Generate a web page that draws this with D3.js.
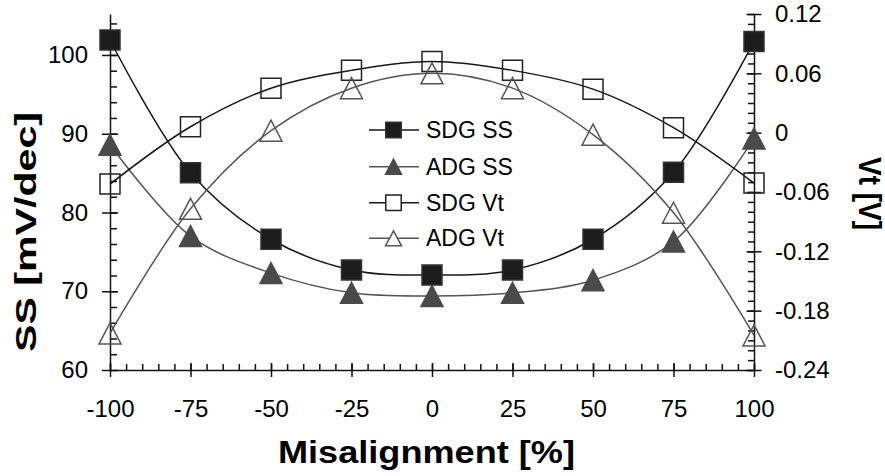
<!DOCTYPE html>
<html>
<head>
<meta charset="utf-8">
<script src="https://cdn.jsdelivr.net/npm/d3@7"></script>
<style>
  body { margin: 0; background: #fff; }
  text { font-family: 'Liberation Sans', Arial, sans-serif; }
</style>
</head>
<body>
<svg id="chart"></svg>
<script>
const width = 885;
const height = 476;

// misalignment in %
const misalign = [-100, -75, -50, -25, 0, 25, 50, 75, 100];
const sdgSS = [101.9, 85.05, 76.6, 72.7, 72.05, 72.7, 76.6, 85.1, 101.7];
const adgSS = [88.6, 77.0, 72.3, 69.8, 69.4, 69.8, 71.4, 76.3, 89.4];
const sdgVt = [-0.052, 0.006, 0.045, 0.063, 0.072, 0.063, 0.044, 0.005, -0.051];
const adgVt = [-0.203, -0.077, 0.002, 0.045, 0.060, 0.045, -0.002, -0.081, -0.205];

const xTicks = [-100, -75, -50, -25, 0, 25, 50, 75, 100];
const ssTicks = [60, 70, 80, 90, 100];
const vtTicks = [-0.24, -0.18, -0.12, -0.06, 0, 0.06, 0.12];
const legendNames = ['SDG SS', 'ADG SS', 'SDG Vt', 'ADG Vt'];

const x = d3.scaleLinear().domain([-100, 100]).range([110, 754]);
const yL = d3.scaleLinear().domain([60, 105.2]).range([370, 14]);
const yR = d3.scaleLinear().domain([-0.24, 0.12]).range([370, 14]);

// plain hyphen instead of the unicode minus d3 uses
const hyphen = (s) => s.replace('\u2212', '-');

const svg = d3.select('#chart')
  .attr('width', width)
  .attr('height', height)
  .attr('viewBox', [0, 0, width, height]);

/** ---------- AXES ---------- */
// minor ticks first (inside only)
svg.append('g')
  .attr('transform', 'translate(0,370)')
  .call(d3.axisBottom(x).tickValues(d3.range(-100, 101, 5)).tickSize(-6).tickFormat(''))
  .call((g) => g.select('.domain').remove());
svg.append('g')
  .attr('transform', 'translate(110,0)')
  .call(d3.axisLeft(yL).tickValues(d3.range(62, 105, 2)).tickSize(-7).tickFormat(''))
  .call((g) => g.select('.domain').remove());
svg.append('g')
  .attr('transform', 'translate(754,0)')
  .call(d3.axisRight(yR).tickValues(d3.range(-24, 13, 1).map((v) => v / 100)).tickSize(-6).tickFormat(''))
  .call((g) => g.select('.domain').remove());

const xAxis = svg.append('g')
  .attr('transform', 'translate(0,370)')
  .call(d3.axisBottom(x).tickValues(xTicks).tickSize(7).tickPadding(23).tickSizeOuter(0)
    .tickFormat((d) => String(d)));
xAxis.selectAll('.tick line').attr('y1', -7);
xAxis.selectAll('.tick text').attr('font-size', 24);

const leftAxis = svg.append('g')
  .attr('transform', 'translate(110,0)')
  .call(d3.axisLeft(yL).tickValues(ssTicks).tickSize(8).tickPadding(14).tickSizeOuter(0));
leftAxis.selectAll('.tick line').attr('x1', 8);
leftAxis.selectAll('.tick text').attr('font-size', 24);

const rightAxis = svg.append('g')
  .attr('transform', 'translate(754,0)')
  .call(d3.axisRight(yR).tickValues(vtTicks).tickSize(7.5).tickPadding(13.5).tickSizeOuter(0)
    .tickFormat((d) => (d === 0 ? '0' : hyphen(d3.format('.2f')(d)))));
rightAxis.selectAll('.tick line').attr('x1', -7.5);
rightAxis.selectAll('.tick text').attr('font-size', 24);

svg.selectAll('.domain, .tick line').attr('stroke', '#111').attr('stroke-width', 1.5);
svg.selectAll('.tick text').attr('fill', '#000').style('font-family', "'Liberation Sans', Arial, sans-serif");

// axis titles
svg.append('text')
  .attr('x', 426.5).attr('y', 463)
  .attr('text-anchor', 'middle')
  .attr('font-size', 32).attr('font-weight', 'bold')
  .attr('textLength', 297).attr('lengthAdjust', 'spacingAndGlyphs')
  .text('Misalignment [%]');
svg.append('text')
  .attr('transform', 'translate(35.5,232) rotate(-90)')
  .attr('text-anchor', 'middle')
  .attr('font-size', 30).attr('font-weight', 'bold')
  .attr('textLength', 240).attr('lengthAdjust', 'spacingAndGlyphs')
  .text('SS [mV/dec]');
svg.append('text')
  .attr('transform', 'translate(858.5,193.5) rotate(90)')
  .attr('text-anchor', 'middle')
  .attr('font-size', 31).attr('font-weight', 'bold')
  .attr('textLength', 73).attr('lengthAdjust', 'spacingAndGlyphs')
  .text('Vt [V]');

/** ---------- SERIES ---------- */
const squarePath = (s) => `M${-s / 2},${-s / 2}h${s}v${s}h${-s}Z`;
const trianglePath = (w, h) => `M0,${-h / 2}L${w / 2},${h / 2}L${-w / 2},${h / 2}Z`;

const series = [
  { name: legendNames[0], values: sdgSS, y: yL, line: '#161616', shape: 'square', fill: '#1c1c1c', stroke: '#333' },
  { name: legendNames[1], values: adgSS, y: yL, line: '#555', shape: 'triangle', fill: '#4a4a4a', stroke: '#4a4a4a' },
  { name: legendNames[2], values: sdgVt, y: yR, line: '#161616', shape: 'square', fill: 'none', stroke: '#222' },
  { name: legendNames[3], values: adgVt, y: yR, line: '#555', shape: 'triangle', fill: 'none', stroke: '#555' },
];

const line = (s) => d3.line()
  .x((d, i) => x(misalign[i]))
  .y((d) => s.y(d))
  .curve(d3.curveCatmullRom.alpha(0.5));

series.forEach((s) => {
  svg.append('path')
    .attr('d', line(s)(s.values))
    .attr('fill', 'none')
    .attr('stroke', s.line)
    .attr('stroke-width', 1.5);
});

series.forEach((s) => {
  svg.append('g')
    .selectAll('path')
    .data(s.values)
    .join('path')
    .attr('transform', (d, i) => `translate(${x(misalign[i])},${s.y(d)})`)
    .attr('d', s.shape === 'square' ? squarePath(20) : trianglePath(22, 21))
    .attr('fill', s.fill)
    .attr('stroke', s.stroke)
    .attr('stroke-width', 1.5);
});

/** ---------- LEGEND ---------- */
const legendY = [130, 166.7, 202.7, 238.3];
const legend = svg.append('g');
series.forEach((s, i) => {
  const row = legend.append('g').attr('transform', `translate(0,${legendY[i]})`);
  row.append('line')
    .attr('x1', 369).attr('x2', 419)
    .attr('stroke', s.line).attr('stroke-width', 1.5);
  row.append('path')
    .attr('transform', 'translate(393.5,0)')
    .attr('d', s.shape === 'square' ? squarePath(15.5) : trianglePath(16, 15))
    .attr('fill', s.fill === 'none' ? '#fff' : s.fill)
    .attr('stroke', s.stroke)
    .attr('stroke-width', 1.5);
  row.append('text')
    .attr('x', 426).attr('dy', '0.35em')
    .attr('font-size', 23)
    .text(s.name);
});
</script>
</body>
</html>
